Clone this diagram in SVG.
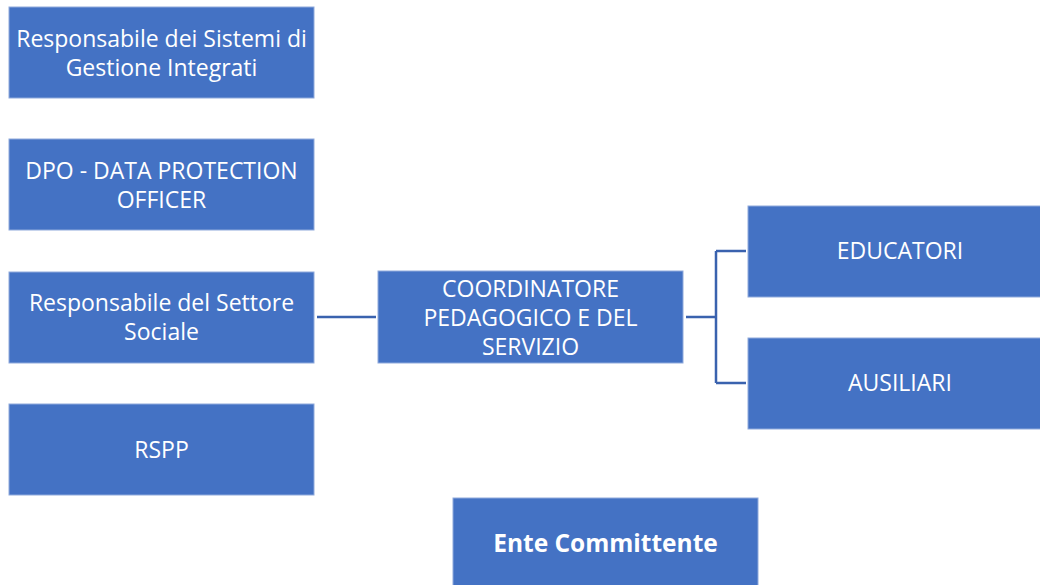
<svg xmlns="http://www.w3.org/2000/svg" width="1040" height="585" viewBox="0 0 1040 585">
<style>
.box{fill:#4472C4;stroke:#8FAADC;stroke-width:1}
.t{font-family:"Open Sans","Noto Sans",sans-serif;font-size:23px;fill:#FFFFFF;text-anchor:middle}
.b{font-weight:bold;font-size:24.5px}
.c{fill:none;stroke:#3A62AE;stroke-width:2.5}
</style>
<rect width="1040" height="585" fill="#FFFFFF"/>
<g id="connectors">
<line class="c" x1="317" y1="317" x2="376" y2="317"/>
<path class="c" d="M686 317 H716 M716 251 V383 M716 251 H746 M716 383 H746"/>
</g>
<g id="n1"><rect class="box" x="9" y="7" width="305" height="91"/><text class="t" x="161.5" y="47">Responsabile dei Sistemi di</text><text class="t" x="161.5" y="76">Gestione Integrati</text></g>
<g id="n2"><rect class="box" x="9" y="139" width="305" height="91"/><text class="t" x="161.5" y="179">DPO - DATA PROTECTION</text><text class="t" x="161.5" y="208">OFFICER</text></g>
<g id="n3"><rect class="box" x="9" y="272" width="305" height="91"/><text class="t" x="161.5" y="311">Responsabile del Settore</text><text class="t" x="161.5" y="340">Sociale</text></g>
<g id="n4"><rect class="box" x="9" y="404" width="305" height="91"/><text class="t" x="161.5" y="458">RSPP</text></g>
<g id="n5"><rect class="box" x="378" y="271" width="305" height="92"/><text class="t" x="530.5" y="297">COORDINATORE</text><text class="t" x="530.5" y="326">PEDAGOGICO E DEL</text><text class="t" x="530.5" y="355">SERVIZIO</text></g>
<g id="n6"><rect class="box" x="748" y="206" width="300" height="91"/><text class="t" x="900" y="259">EDUCATORI</text></g>
<g id="n7"><rect class="box" x="748" y="338" width="300" height="91"/><text class="t" x="900" y="391">AUSILIARI</text></g>
<g id="n8"><rect class="box" x="453" y="498" width="305" height="95"/><text class="t b" x="605.5" y="552">Ente Committente</text></g>
</svg>
